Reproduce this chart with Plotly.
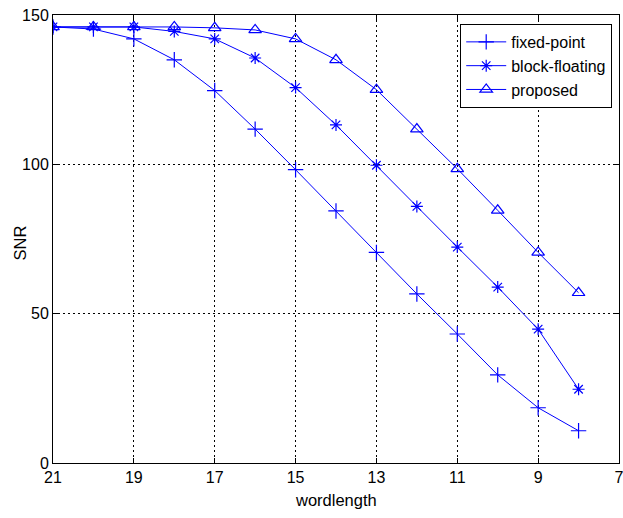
import plotly.graph_objects as go

wordlength = [21, 20, 19, 18, 17, 16, 15, 14, 13, 12, 11, 10, 9, 8]
fixed_point = [146, 145.3, 142, 135, 124.7, 111.8, 98.2, 84.4, 70.5, 56.6, 43.2, 29.5, 18.5, 10.8]
block_floating = [146, 146, 146, 144.5, 142, 135.6, 125.7, 113.2, 99.7, 85.9, 72.3, 58.9, 44.8, 24.7]
proposed = [146, 146, 146, 146, 145.7, 145, 142, 135, 125, 111.8, 98.5, 84.6, 70.5, 57]

x_ticks = [21, 19, 17, 15, 13, 11, 9, 7]
y_ticks = [0, 50, 100, 150]

FONT = "Liberation Sans, Arial"
blue = "#0000ff"
fig = go.Figure()
series = [
    ("fixed-point", fixed_point, "cross-thin-open", 11),
    ("block-floating", block_floating, "asterisk-open", 10),
    ("proposed", proposed, "triangle-up-open", 11),
]
for name, vals, sym, sz in series:
    fig.add_trace(go.Scatter(
        x=wordlength, y=vals, name=name, mode="lines+markers",
        line=dict(color=blue, width=1),
        marker=dict(symbol=sym, size=sz, color=blue, line=dict(color=blue, width=1.2)),
    ))

axis_common = dict(
    showline=True, linecolor="black", linewidth=1, mirror="ticks",
    ticks="inside", ticklen=5, tickcolor="black",
    showgrid=True, gridcolor="black", gridwidth=1, griddash="2px,3px",
    zeroline=False, automargin=False, ticklabeloverflow="allow",
    tickfont=dict(family=FONT, size=16, color="black"),
)
fig.update_xaxes(range=[21, 7], tickvals=x_ticks, ticktext=[str(v) for v in x_ticks], **axis_common)
fig.update_yaxes(range=[0, 150], tickvals=y_ticks, ticktext=[str(v) for v in y_ticks], **axis_common)
fig.update_layout(
    width=623, height=518,
    margin=dict(l=53, r=4, t=15, b=55),
    paper_bgcolor="white", plot_bgcolor="white",
    showlegend=True,
    legend=dict(x=0.988, y=0.98, xanchor="right", yanchor="top",
                bgcolor="white", bordercolor="black", borderwidth=1,
                font=dict(family=FONT, size=16, color="black"),
                tracegroupgap=0, itemwidth=40),
    annotations=[
        dict(text="wordlength", xref="paper", yref="paper", x=0.5, y=-37 / 448,
             xanchor="center", yanchor="middle", showarrow=False,
             font=dict(family=FONT, size=16.5, color="black")),
        dict(text="SNR", xref="paper", yref="paper", x=-33 / 566, y=0.49,
             xanchor="center", yanchor="middle", showarrow=False, textangle=-90,
             font=dict(family=FONT, size=16.5, color="black")),
    ],
)
fig.write_html("out.html", config={"displayModeBar": False},
               post_script="document.body.style.margin='0';document.body.style.padding='0';document.body.style.overflow='hidden';")
